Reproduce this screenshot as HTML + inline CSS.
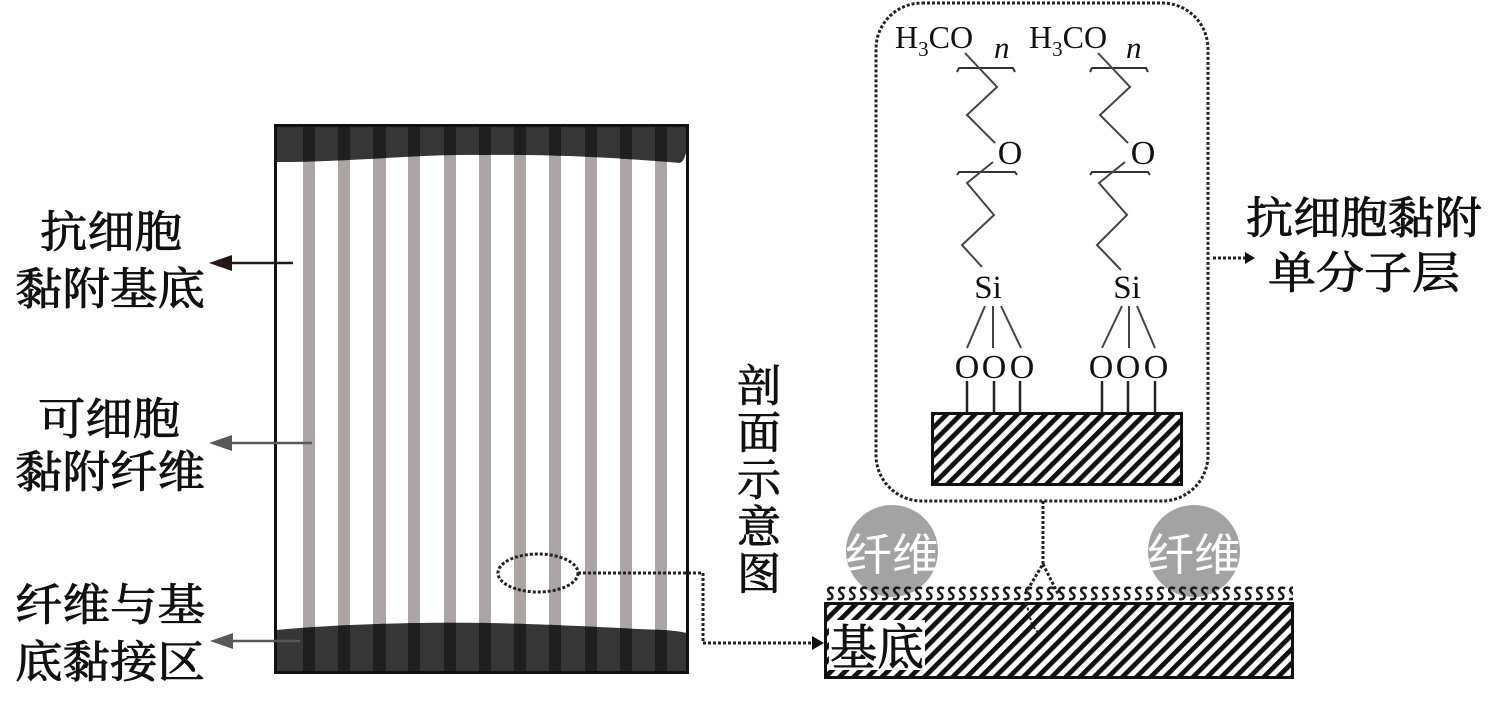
<!DOCTYPE html>
<html><head><meta charset="utf-8"><style>
html,body{margin:0;padding:0;background:#fff;}
svg{display:block;}
.cn{font-family:"Liberation Serif","Noto Serif CJK SC",serif;fill:#111;stroke:#111;stroke-width:0.9;}
.ch{font-family:"Liberation Serif",serif;fill:#111;}
</style></head><body>
<svg width="1500" height="712" viewBox="0 0 1500 712" xmlns="http://www.w3.org/2000/svg">
<defs>
<pattern id="hat" width="10" height="10" patternUnits="userSpaceOnUse" patternTransform="rotate(45)">
<rect x="0" y="0" width="4.8" height="10" fill="#111"/>
</pattern>
<pattern id="sq" width="11" height="16" patternUnits="userSpaceOnUse" x="825" y="586">
<path d="M9,2.5 C4,0 1,4 5,7 C9,9.5 8,14 2,13" fill="none" stroke="#1a1a1a" stroke-width="2.6"/>
</pattern>
</defs>
<rect width="1500" height="712" fill="#fff"/>

<!-- Left rectangle -->
<rect x="276" y="126" width="411" height="546" fill="#fff"/>
<g fill="#aba6a5">
<rect x="303" y="126" width="12" height="546"/>
<rect x="338" y="126" width="12" height="546"/>
<rect x="373" y="126" width="13" height="546"/>
<rect x="408" y="126" width="12" height="546"/>
<rect x="444" y="126" width="12" height="546"/>
<rect x="479" y="126" width="12" height="546"/>
<rect x="514" y="126" width="12" height="546"/>
<rect x="549" y="126" width="12" height="546"/>
<rect x="585" y="126" width="12" height="546"/>
<rect x="620" y="126" width="12" height="546"/>
<rect x="655" y="126" width="12" height="546"/>
</g>
<clipPath id="topc"><path d="M276,126 L687,126 L687,145 Q686,160 680,163 C620,158 560,154 480,155 C420,154 350,162 276,162 Z"/></clipPath>
<clipPath id="botc"><path d="M276,630 C320,626 360,624 420,623 C500,622 560,625 620,628 C650,630 670,629 687,633 L687,672 L276,672 Z"/></clipPath>
<g clip-path="url(#topc)">
<rect x="276" y="126" width="411" height="40" fill="#363636"/>
<g fill="#1f1f1f">
<rect x="303" y="126" width="12" height="40"/><rect x="338" y="126" width="12" height="40"/><rect x="373" y="126" width="13" height="40"/><rect x="408" y="126" width="12" height="40"/><rect x="444" y="126" width="12" height="40"/><rect x="479" y="126" width="12" height="40"/><rect x="514" y="126" width="12" height="40"/><rect x="549" y="126" width="12" height="40"/><rect x="585" y="126" width="12" height="40"/><rect x="620" y="126" width="12" height="40"/><rect x="655" y="126" width="12" height="40"/>
</g></g>
<g clip-path="url(#botc)">
<rect x="276" y="615" width="411" height="60" fill="#363636"/>
<g fill="#1f1f1f">
<rect x="303" y="615" width="12" height="60"/><rect x="338" y="615" width="12" height="60"/><rect x="373" y="615" width="13" height="60"/><rect x="408" y="615" width="12" height="60"/><rect x="444" y="615" width="12" height="60"/><rect x="479" y="615" width="12" height="60"/><rect x="514" y="615" width="12" height="60"/><rect x="549" y="615" width="12" height="60"/><rect x="585" y="615" width="12" height="60"/><rect x="620" y="615" width="12" height="60"/><rect x="655" y="615" width="12" height="60"/>
</g></g>
<rect x="275.5" y="125.5" width="412" height="547" fill="none" stroke="#111" stroke-width="3"/>

<!-- left arrows -->
<g>
<line x1="293" y1="263" x2="225" y2="263" stroke="#231815" stroke-width="2.5"/>
<polygon points="209,263 232,255 232,271" fill="#231815"/>
<line x1="312" y1="443" x2="225" y2="443" stroke="#58585a" stroke-width="2.5"/>
<polygon points="209,443 232,435 232,451" fill="#58585a"/>
<line x1="300" y1="641" x2="225" y2="641" stroke="#58585a" stroke-width="2.5"/>
<polygon points="210,641 233,633 233,649" fill="#58585a"/>
</g>

<!-- left labels -->
<g class="cn" font-size="44">
<text x="40" y="247" textLength="142" lengthAdjust="spacingAndGlyphs">抗细胞</text>
<text x="15" y="304" textLength="190" lengthAdjust="spacingAndGlyphs">黏附基底</text>
<text x="38" y="434" textLength="142" lengthAdjust="spacingAndGlyphs">可细胞</text>
<text x="15" y="487" textLength="190" lengthAdjust="spacingAndGlyphs">黏附纤维</text>
<text x="15" y="620" textLength="190" lengthAdjust="spacingAndGlyphs">纤维与基</text>
<text x="15" y="677" textLength="190" lengthAdjust="spacingAndGlyphs">底黏接区</text>
</g>
<g class="cn" font-size="44" text-anchor="middle">
<text x="759" y="401">剖</text>
<text x="759" y="448">面</text>
<text x="759" y="495">示</text>
<text x="759" y="542">意</text>
<text x="759" y="589">图</text>
</g>

<!-- ellipse & connector -->
<g fill="none" stroke="#222" stroke-width="3" stroke-dasharray="3 2">
<ellipse cx="538" cy="573" rx="40" ry="19"/>
<polyline points="578,573 703,573 703,643 815,643"/>
</g>
<polygon points="824,643 812,636 812,650" fill="#111"/>

<!-- substrate -->
<rect x="825" y="603" width="468" height="75" fill="url(#hat)"/>
<rect x="829" y="620" width="96" height="50" fill="#fff"/>
<rect x="825.5" y="603.5" width="467" height="74" fill="none" stroke="#111" stroke-width="3"/>
<text class="cn" x="830" y="664" font-size="48" textLength="94" lengthAdjust="spacingAndGlyphs">基底</text>

<!-- fiber circles -->
<circle cx="892" cy="551" r="46" fill="#a3a3a3"/>
<circle cx="1194" cy="551" r="46" fill="#a3a3a3"/>
<g font-family="'Liberation Sans','Noto Sans CJK SC',sans-serif" font-size="44" fill="#fff">
<text x="845" y="570" textLength="94" lengthAdjust="spacingAndGlyphs">纤维</text>
<text x="1147" y="570" textLength="94" lengthAdjust="spacingAndGlyphs">纤维</text>
</g>
<rect x="825" y="586" width="468" height="16" fill="url(#sq)"/>

<!-- connector from box down -->
<g fill="none" stroke="#222" stroke-width="3" stroke-dasharray="3 2">
<line x1="1043" y1="501" x2="1043" y2="564"/>
<polyline points="1025,594 1043,564 1058,594"/>
<polyline points="1025,598 1032,625 1040,635" stroke-width="2"/>
</g>

<!-- dotted rounded box -->
<rect x="876" y="3" width="332" height="498" rx="46" ry="46" fill="none" stroke="#222" stroke-width="3" stroke-dasharray="3 2"/>
<line x1="1213" y1="258" x2="1246" y2="258" stroke="#222" stroke-width="3" stroke-dasharray="3 2"/>
<polygon points="1255,258 1245,252 1245,264" fill="#111"/>
<g class="cn" font-size="44">
<text x="1246" y="233" textLength="236" lengthAdjust="spacingAndGlyphs">抗细胞黏附</text>
<text x="1268" y="288" textLength="192" lengthAdjust="spacingAndGlyphs">单分子层</text>
</g>

<!-- slab in box -->
<rect x="932" y="413" width="250" height="72" fill="url(#hat)"/>
<rect x="932.5" y="413.5" width="249" height="71" fill="none" stroke="#111" stroke-width="3"/>

<!-- left chain -->
<g>
<text class="ch" x="895" y="48" font-size="32">H<tspan font-size="21" dy="8">3</tspan><tspan dy="-8">CO</tspan></text>
<text class="ch" x="994" y="58" font-size="31" font-style="italic">n</text>
<path d="M957,72 L959,68 L1013,68 L1015,72" fill="none" stroke="#333" stroke-width="2"/>
<polyline points="965,53 997,87 967,115 995,143" fill="none" stroke="#444" stroke-width="2"/>
<text class="ch" x="1010" y="164" font-size="34" text-anchor="middle">O</text>
<path d="M957,175 L959,172 L1015,172 L1017,175" fill="none" stroke="#333" stroke-width="2"/>
<polyline points="993,162 967,183 994,215 962,245 982,267" fill="none" stroke="#444" stroke-width="2"/>
<text class="ch" x="988" y="298" font-size="33" text-anchor="middle">Si</text>
<g stroke="#444" stroke-width="2">
<line x1="985" y1="306" x2="967" y2="348"/>
<line x1="993" y1="306" x2="993" y2="348"/>
<line x1="1001" y1="306" x2="1021" y2="348"/>
</g>
<g class="ch" font-size="34" text-anchor="middle">
<text x="967" y="378">O</text><text x="994" y="378">O</text><text x="1022" y="378">O</text>
</g>
<g stroke="#222" stroke-width="2.5">
<line x1="967" y1="381" x2="967" y2="413"/>
<line x1="994" y1="381" x2="994" y2="413"/>
<line x1="1020" y1="381" x2="1020" y2="413"/>
</g>
</g>

<!-- right chain -->
<g>
<text class="ch" x="1029" y="48" font-size="32">H<tspan font-size="21" dy="8">3</tspan><tspan dy="-8">CO</tspan></text>
<text class="ch" x="1126" y="58" font-size="31" font-style="italic">n</text>
<path d="M1090,72 L1092,68 L1146,68 L1148,72" fill="none" stroke="#333" stroke-width="2"/>
<polyline points="1098,53 1130,87 1100,115 1128,143" fill="none" stroke="#444" stroke-width="2"/>
<text class="ch" x="1143" y="164" font-size="34" text-anchor="middle">O</text>
<path d="M1090,175 L1092,172 L1148,172 L1150,175" fill="none" stroke="#333" stroke-width="2"/>
<polyline points="1125,162 1099,183 1127,215 1097,245 1121,270" fill="none" stroke="#444" stroke-width="2"/>
<text class="ch" x="1127" y="298" font-size="33" text-anchor="middle">Si</text>
<g stroke="#444" stroke-width="2">
<line x1="1122" y1="306" x2="1102" y2="348"/>
<line x1="1129" y1="306" x2="1129" y2="348"/>
<line x1="1137" y1="306" x2="1155" y2="348"/>
</g>
<g class="ch" font-size="34" text-anchor="middle">
<text x="1101" y="378">O</text><text x="1128" y="378">O</text><text x="1156" y="378">O</text>
</g>
<g stroke="#222" stroke-width="2.5">
<line x1="1102" y1="381" x2="1102" y2="413"/>
<line x1="1128" y1="381" x2="1128" y2="413"/>
<line x1="1155" y1="381" x2="1155" y2="413"/>
</g>
</g>
</svg>
</body></html>
